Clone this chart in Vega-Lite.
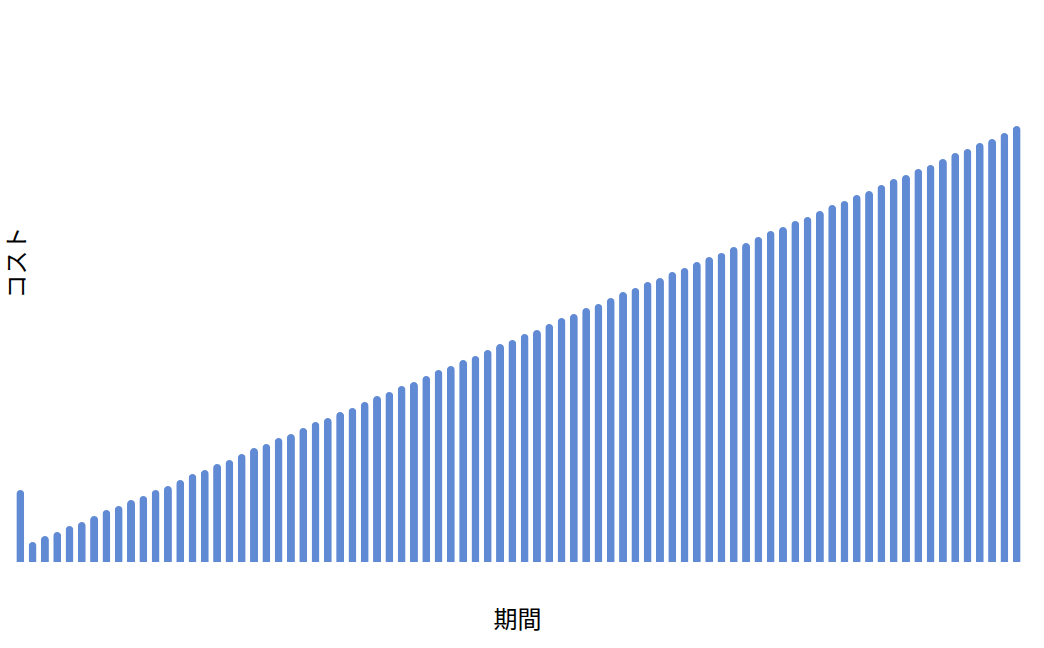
{
  "$schema": "https://vega.github.io/schema/vega-lite/v6.json",
  "autosize": {"type": "none"},
  "padding": {"left": 12, "top": 5, "right": 19, "bottom": 86},
  "width": 1013,
  "height": 557,
  "background": "white",
  "data": {
    "values": [
      {"period": 1, "cost": 72}, {"period": 2, "cost": 20}, {"period": 3, "cost": 26}, {"period": 4, "cost": 30},
      {"period": 5, "cost": 36}, {"period": 6, "cost": 40}, {"period": 7, "cost": 46}, {"period": 8, "cost": 52},
      {"period": 9, "cost": 56}, {"period": 10, "cost": 62}, {"period": 11, "cost": 66}, {"period": 12, "cost": 72},
      {"period": 13, "cost": 76}, {"period": 14, "cost": 82}, {"period": 15, "cost": 88}, {"period": 16, "cost": 92},
      {"period": 17, "cost": 98}, {"period": 18, "cost": 102}, {"period": 19, "cost": 108}, {"period": 20, "cost": 114},
      {"period": 21, "cost": 118}, {"period": 22, "cost": 124}, {"period": 23, "cost": 128}, {"period": 24, "cost": 134},
      {"period": 25, "cost": 140}, {"period": 26, "cost": 144}, {"period": 27, "cost": 150}, {"period": 28, "cost": 154},
      {"period": 29, "cost": 160}, {"period": 30, "cost": 166}, {"period": 31, "cost": 170}, {"period": 32, "cost": 176},
      {"period": 33, "cost": 180}, {"period": 34, "cost": 186}, {"period": 35, "cost": 192}, {"period": 36, "cost": 196},
      {"period": 37, "cost": 202}, {"period": 38, "cost": 206}, {"period": 39, "cost": 212}, {"period": 40, "cost": 218},
      {"period": 41, "cost": 222}, {"period": 42, "cost": 228}, {"period": 43, "cost": 232}, {"period": 44, "cost": 238},
      {"period": 45, "cost": 244}, {"period": 46, "cost": 248}, {"period": 47, "cost": 254}, {"period": 48, "cost": 258},
      {"period": 49, "cost": 264}, {"period": 50, "cost": 270}, {"period": 51, "cost": 274}, {"period": 52, "cost": 280},
      {"period": 53, "cost": 284}, {"period": 54, "cost": 290}, {"period": 55, "cost": 294}, {"period": 56, "cost": 300},
      {"period": 57, "cost": 305}, {"period": 58, "cost": 309}, {"period": 59, "cost": 315}, {"period": 60, "cost": 319},
      {"period": 61, "cost": 325}, {"period": 62, "cost": 331}, {"period": 63, "cost": 335}, {"period": 64, "cost": 341},
      {"period": 65, "cost": 345}, {"period": 66, "cost": 351}, {"period": 67, "cost": 357}, {"period": 68, "cost": 361},
      {"period": 69, "cost": 367}, {"period": 70, "cost": 371}, {"period": 71, "cost": 377}, {"period": 72, "cost": 383},
      {"period": 73, "cost": 387}, {"period": 74, "cost": 393}, {"period": 75, "cost": 397}, {"period": 76, "cost": 403},
      {"period": 77, "cost": 409}, {"period": 78, "cost": 413}, {"period": 79, "cost": 419}, {"period": 80, "cost": 423},
      {"period": 81, "cost": 429}, {"period": 82, "cost": 436}
    ]
  },
  "mark": {
    "type": "bar",
    "color": "#618ad5",
    "cornerRadiusTopLeft": 4,
    "cornerRadiusTopRight": 4
  },
  "encoding": {
    "x": {
      "field": "period",
      "type": "ordinal",
      "title": "期間",
      "scale": {"paddingInner": 0.35, "paddingOuter": 0.35},
      "axis": {
        "labels": false,
        "ticks": false,
        "domain": false,
        "titleFont": "Noto Sans CJK JP",
        "titleFontSize": 24,
        "titleFontWeight": "normal",
        "titleColor": "black",
        "titleBaseline": "middle",
        "titleX": 505,
        "titleY": 58
      }
    },
    "y": {
      "field": "cost",
      "type": "quantitative",
      "title": "コスト",
      "scale": {"domain": [0, 557], "nice": false},
      "axis": {
        "labels": false,
        "ticks": false,
        "domain": false,
        "grid": false,
        "titleFont": "Noto Sans CJK JP",
        "titleFontSize": 24,
        "titleFontWeight": "normal",
        "titleColor": "black",
        "titleAngle": -90,
        "titleAlign": "center",
        "titleBaseline": "middle",
        "titleX": 5,
        "titleY": 257
      }
    }
  },
  "config": {"view": {"stroke": null}}
}
